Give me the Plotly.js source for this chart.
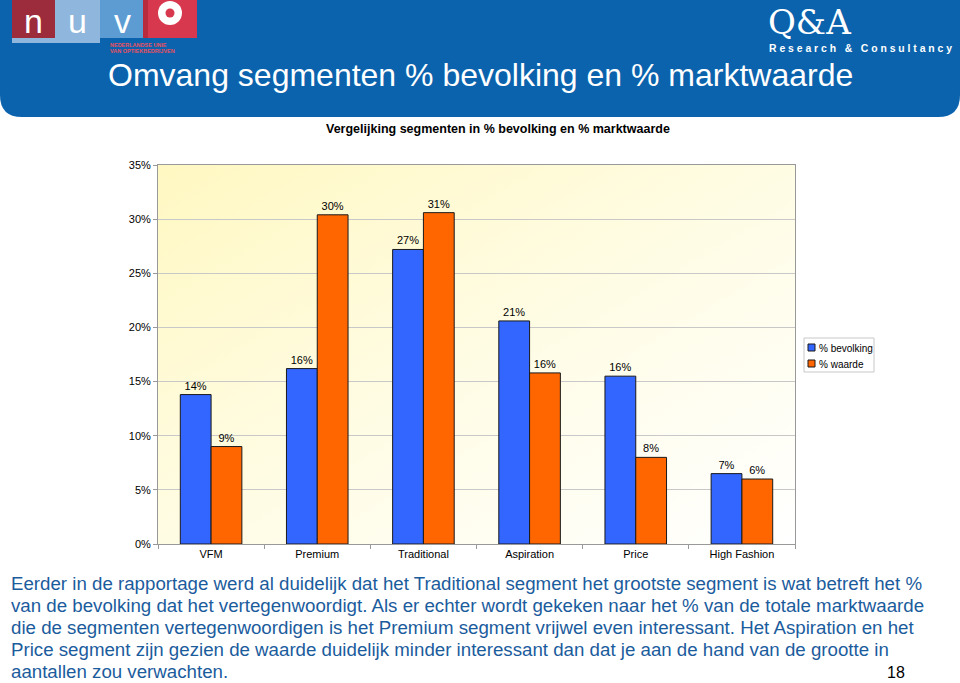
<!DOCTYPE html>
<html>
<head>
<meta charset="utf-8">
<script src="https://cdn.plot.ly/plotly-3.0.1.min.js"></script>
<style>
  html, body { margin:0; padding:0; background:#ffffff; }
  #wrap { position:relative; width:960px; height:683px; overflow:hidden; }
  #bg { position:absolute; left:158px; top:165px; width:637px; height:379px;
        background: linear-gradient(to bottom right, #FFF8C2 0%, #FFFCE4 50%, #FFFFFF 100%); }
  #chart { position:absolute; left:0; top:0; width:960px; height:683px; }
</style>
</head>
<body>
<div id="wrap">
  <div id="bg"></div>
  <div id="chart"></div>
</div>
<script>
// ---- data ----
const categories = ['VFM', 'Premium', 'Traditional', 'Aspiration', 'Price', 'High Fashion'];
const bevolking  = [13.8, 16.2, 27.2, 20.6, 15.5, 6.5];
const waarde     = [9.0, 30.4, 30.6, 15.8, 8.0, 6.0];
const seriesNames = ['% bevolking', '% waarde'];
const seriesColors = ['#3366FF', '#FF6600'];
const yTickVals = [0, 5, 10, 15, 20, 25, 30, 35];
const yTickText = yTickVals.map(v => v + '%');

const pageTitle = 'Omvang segmenten % bevolking en % marktwaarde';
const chartTitle = 'Vergelijking segmenten in % bevolking en % marktwaarde';
const bodyLines = [
  'Eerder in de rapportage werd al duidelijk dat het Traditional segment het grootste segment is wat betreft het %',
  'van de bevolking dat het vertegenwoordigt. Als er echter wordt gekeken naar het % van de totale marktwaarde',
  'die de segmenten vertegenwoordigen is het Premium segment vrijwel even interessant. Het Aspiration en het',
  'Price segment zijn gezien de waarde duidelijk minder interessant dan dat je aan de hand van de grootte in',
  'aantallen zou verwachten.'
];
const pageNumber = '18';

// ---- pixel helpers (plot area in pixels) ----
const L = 158, R = 795, T = 165, B = 544;
const W = R - L, H = B - T;
const X = px => (px - L) / W;
const Y = py => (B - py) / H;

const FONT = 'Arial, "Liberation Sans", sans-serif';

const traces = [bevolking, waarde].map((vals, i) => ({
  type: 'bar', name: seriesNames[i], x: categories, y: vals,
  marker: { color: seriesColors[i], line: { color: '#1a1a1a', width: 1 } },
  texttemplate: '%{y:.0f}%', textposition: 'outside', cliponaxis: false,
  textfont: { family: FONT, size: 11, color: '#000' }, hoverinfo: 'skip', showlegend: false
}));

const banner = `M ${X(0)},${Y(0)} L ${X(960)},${Y(0)} L ${X(960)},${Y(95)} Q ${X(960)},${Y(117)} ${X(938)},${Y(117)} L ${X(22)},${Y(117)} Q ${X(0)},${Y(117)} ${X(0)},${Y(95)} Z`;

function rect(x0, y0, x1, y1, color, lineColor) {
  return { type: 'rect', xref: 'paper', yref: 'paper', x0: X(x0), x1: X(x1), y0: Y(y1), y1: Y(y0),
           fillcolor: color, line: lineColor ? { width: 1, color: lineColor } : { width: 0 }, layer: 'above' };
}
function circ(cx, cy, r, color) {
  return { type: 'circle', xref: 'paper', yref: 'paper', x0: X(cx - r), x1: X(cx + r), y0: Y(cy + r), y1: Y(cy - r),
           fillcolor: color, line: { width: 0 }, layer: 'above' };
}

const shapes = [
  { type: 'path', xref: 'paper', yref: 'paper', path: banner, fillcolor: '#0B63AD', line: { width: 0 }, layer: 'above' },
  rect(12, 0, 100, 43, '#8FB6DC'),
  rect(12, 0, 55, 38, '#9C2B3B'),
  rect(100, 0, 145, 38, '#5D9CD2'),
  rect(143, 0, 197, 38, '#D8384D'),
  rect(143, 0, 148, 38, '#B82A3E'),
  circ(170, 13, 12, '#FFFFFF'),
  circ(170, 13, 4.5, '#D8384D'),
  // legend box and swatches
  rect(804, 338, 874, 372, '#FFFFFF', '#C8C8C8'),
  rect(808, 344, 815, 351, seriesColors[0], '#1a1a1a'),
  rect(808, 360, 815, 367, seriesColors[1], '#1a1a1a')
];

function ann(text, px, py, opts) {
  return Object.assign({ text: text, xref: 'paper', yref: 'paper', x: X(px), y: Y(py),
    showarrow: false, xanchor: 'left', yanchor: 'middle',
    font: { family: FONT, size: 12, color: '#000' } }, opts || {});
}

const letterOpts = { xanchor: 'center', yanchor: 'top', font: { family: FONT, size: 34, color: '#fff' } };
const annotations = [
  ann('n', 33, 0, letterOpts),
  ann('u', 77, 0, letterOpts),
  ann('v', 122, 0, letterOpts),
  ann('<b>NEDERLANDSE UNIE</b>', 108, 45, { font: { family: FONT, size: 5.5, color: '#E8505F' } }),
  ann('<b>VAN OPTIEKBEDRIJVEN</b>', 108, 51, { font: { family: FONT, size: 5.5, color: '#E8505F' } }),
  ann('Q&amp;A', 766, 0, { yanchor: 'top', font: { family: '"DejaVu Serif", "Liberation Serif", serif', size: 34, color: '#fff' } }),
  ann('<b>R e s e a r c h   &amp;   C o n s u l t a n c y</b>', 767, 49, { font: { family: FONT, size: 10.4, color: '#fff' } }),
  ann(pageTitle, 106, 75, { font: { family: FONT, size: 32, color: '#fff' } }),
  ann('<b>' + chartTitle + '</b>', 498, 129, { xanchor: 'center', font: { family: FONT, size: 12.5, color: '#000' } }),
  ann(pageNumber, 885, 672, { font: { family: FONT, size: 16, color: '#000' } }),
  ann(seriesNames[0], 817, 348, { font: { family: FONT, size: 10, color: '#000' } }),
  ann(seriesNames[1], 817, 364, { font: { family: FONT, size: 10, color: '#000' } })
];
bodyLines.forEach((line, i) => {
  annotations.push(ann(line, 9, 583 + 22 * i, { font: { family: FONT, size: 18.7, color: '#1B5C9D' } }));
});

const layout = {
  width: 960, height: 683,
  margin: { l: L, r: 960 - R, t: T, b: 683 - B, pad: 0 },
  paper_bgcolor: 'rgba(0,0,0,0)',
  plot_bgcolor: 'rgba(0,0,0,0)',
  font: { family: FONT, size: 11, color: '#000' },
  barmode: 'group', bargap: 0.42, bargroupgap: 0,
  showlegend: false,
  xaxis: {
    type: 'category', tickson: 'boundaries', ticks: 'outside', ticklen: 4, tickcolor: '#999',
    showline: true, linecolor: '#999', linewidth: 1, mirror: true, showgrid: false,
    tickfont: { family: FONT, size: 11, color: '#000' }, fixedrange: true
  },
  yaxis: {
    range: [0, 35], tickmode: 'array', tickvals: yTickVals, ticktext: yTickText,
    ticks: 'outside', ticklen: 4, tickcolor: '#999',
    showline: true, linecolor: '#999', linewidth: 1, mirror: true,
    showgrid: true, gridcolor: '#C8C8C8', gridwidth: 1, zeroline: false,
    tickfont: { family: FONT, size: 11, color: '#000' }, fixedrange: true
  },
  shapes: shapes,
  annotations: annotations
};

Plotly.newPlot('chart', traces, layout, { displayModeBar: false, staticPlot: true });
</script>
</body>
</html>
